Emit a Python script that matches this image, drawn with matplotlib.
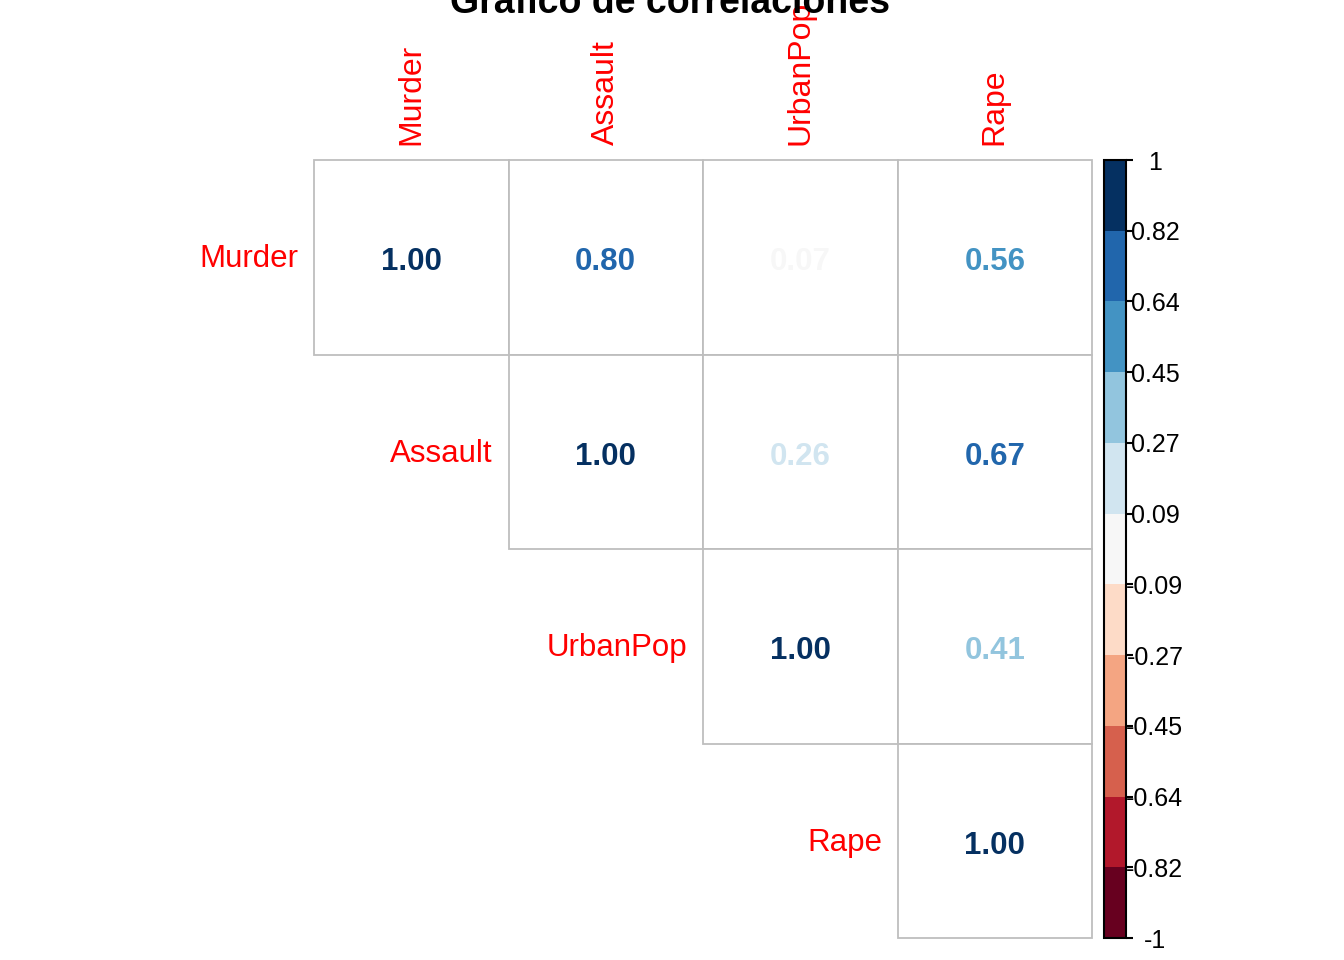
import numpy as np
import matplotlib
matplotlib.use("Agg")
import matplotlib.pyplot as plt
from matplotlib.colors import ListedColormap, BoundaryNorm
from matplotlib.patches import Rectangle
import matplotlib.cm as cm

plt.rcParams['font.family'] = ['Liberation Sans', 'DejaVu Sans']

# data
variables = ["Murder", "Assault", "UrbanPop", "Rape"]
corr = np.array([
    [1.00, 0.80, 0.07, 0.56],
    [0.80, 1.00, 0.26, 0.67],
    [0.07, 0.26, 1.00, 0.41],
    [0.56, 0.67, 0.41, 1.00],
])
rdbu11 = ["#67001F", "#B2182B", "#D6604D", "#F4A582", "#FDDBC7", "#F7F7F7",
          "#D1E5F0", "#92C5DE", "#4393C3", "#2166AC", "#053061"]
bounds = np.linspace(-1, 1, 12)
tick_labels = ["-1", "-0.82", "-0.64", "-0.45", "-0.27", "-0.09",
               "0.09", "0.27", "0.45", "0.64", "0.82", "1"]

W, H = 1344, 960
fig = plt.figure(figsize=(W / 100, H / 100), dpi=100)

cmap = ListedColormap(rdbu11)
norm = BoundaryNorm(bounds, cmap.N)

# grid area in pixels
gx0, gx1, gy0, gy1 = 314, 1092, 160, 938
ax = fig.add_axes([gx0 / W, 1 - gy1 / H, (gx1 - gx0) / W, (gy1 - gy0) / H])
n = len(variables)
ax.set_xlim(0.5, n + 0.5)
ax.set_ylim(n + 0.5, 0.5)
ax.axis("off")

for i in range(n):
    for j in range(i, n):
        ax.add_patch(Rectangle((j + 0.5, i + 0.5), 1, 1, facecolor="white",
                               edgecolor="#BEBEBE", lw=1.3, clip_on=False))
        v = corr[i, j]
        ax.text(j + 1, i + 1.025, f"{v:.2f}", ha="center", va="center",
                fontsize=22.5, fontweight="bold", color=cmap(norm(v)))
    # row label
    ax.text(i + 0.5 - 0.08, i + 1.01, variables[i], ha="right", va="center",
            fontsize=22.5, color="red", clip_on=False)
    # column label
    ax.text(i + 1, 0.5 - 0.075, variables[i], ha="center", va="bottom",
            rotation=90, fontsize=23, color="red", clip_on=False)

# colour legend
cax = fig.add_axes([1104 / W, 1 - 938 / H, 22 / W, 778 / H])
sm = cm.ScalarMappable(norm=norm, cmap=cmap)
cb = fig.colorbar(sm, cax=cax, boundaries=bounds, ticks=bounds)
cb.set_ticklabels(tick_labels)
cb.outline.set_linewidth(1.5)
cax.tick_params(length=5, width=1.5, pad=15.8, labelsize=18)
for lab in cax.get_yticklabels():
    lab.set_horizontalalignment("center")

fig.text(670 / W, 1 - 13 / H, "Gráfico de correlaciones", ha="center",
         va="baseline", fontsize=27, fontweight="bold")

fig.savefig("out.png", dpi=100)
